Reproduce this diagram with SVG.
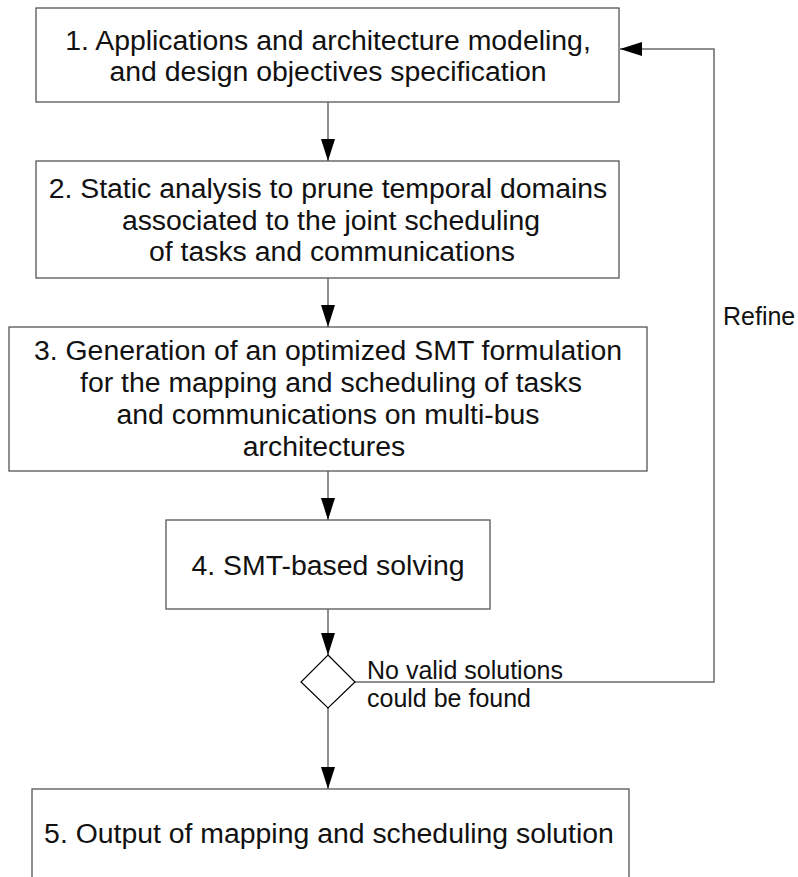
<svg xmlns="http://www.w3.org/2000/svg" width="798" height="877" viewBox="0 0 798 877">
<style>
.box{fill:#fff;stroke:#555;stroke-width:1.3}
.t{font-family:"Liberation Sans",Arial,sans-serif;font-size:28.4px;fill:#111;text-anchor:middle}
.s{font-family:"Liberation Sans",Arial,sans-serif;font-size:25px;fill:#111}
.c{fill:none;stroke:#6a6a6a;stroke-width:1.5}
</style>
<defs>
<marker id="ah" markerUnits="userSpaceOnUse" markerWidth="22" markerHeight="14" refX="22" refY="7" orient="auto">
<path d="M0,0 L22,7 L0,14 z" fill="#000"/>
</marker>
</defs>
<rect width="798" height="877" fill="#fff"/>
<g id="connectors">
<line class="c" x1="328" y1="102" x2="328" y2="161" marker-end="url(#ah)"/>
<line class="c" x1="328" y1="278" x2="328" y2="327" marker-end="url(#ah)"/>
<line class="c" x1="328" y1="471" x2="328" y2="520" marker-end="url(#ah)"/>
<line class="c" x1="328" y1="609" x2="328" y2="655" marker-end="url(#ah)"/>
<line class="c" x1="328" y1="708" x2="328" y2="789" marker-end="url(#ah)"/>
<polyline class="c" points="355,682 714,682 714,49 620,49" marker-end="url(#ah)"/>
<text class="s" x="723" y="325">Refine</text>
<text class="s" x="367" y="679">No valid solutions</text>
<text class="s" x="367" y="707">could be found</text>
</g>
<g id="n1">
<rect class="box" x="36" y="8" width="583" height="94"/>
<text class="t" x="328" y="50">1. Applications and architecture modeling,</text>
<text class="t" x="328" y="81">and design objectives specification</text>
</g>
<g id="n2">
<rect class="box" x="36" y="161" width="583" height="117"/>
<text class="t" x="328" y="198">2. Static analysis to prune temporal domains</text>
<text class="t" x="331" y="230">associated to the joint scheduling</text>
<text class="t" x="332" y="261">of tasks and communications</text>
</g>
<g id="n3">
<rect class="box" x="9" y="327" width="638" height="144"/>
<text class="t" x="328" y="360">3. Generation of an optimized SMT formulation</text>
<text class="t" x="331" y="392">for the mapping and scheduling of tasks</text>
<text class="t" x="328" y="424">and communications on multi-bus</text>
<text class="t" x="324" y="456">architectures</text>
</g>
<g id="n4">
<rect class="box" x="166" y="520" width="324" height="89"/>
<text class="t" x="328" y="575">4. SMT-based solving</text>
</g>
<g id="d1">
<polygon points="328,655 355,682 328,708 301,682" fill="#fff" stroke="#000" stroke-width="1.2"/>
</g>
<g id="n5">
<rect class="box" x="32" y="789" width="597" height="100"/>
<text class="t" x="329" y="843">5. Output of mapping and scheduling solution</text>
</g>
</svg>
